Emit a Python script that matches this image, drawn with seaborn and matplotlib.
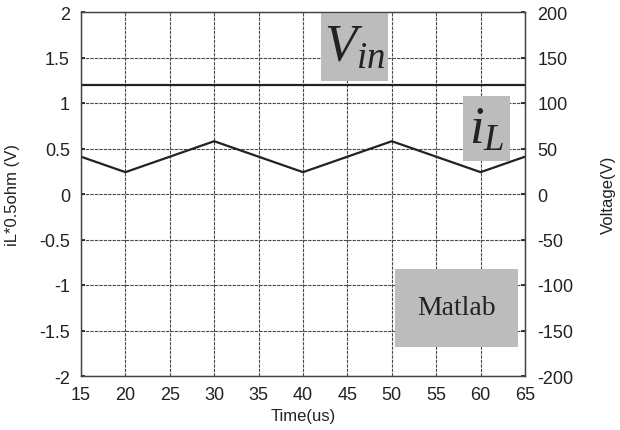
import numpy as np
import pandas as pd
import matplotlib
matplotlib.use("Agg")
import matplotlib.pyplot as plt
import seaborn as sns
from matplotlib.patches import Rectangle
from matplotlib.ticker import FuncFormatter

# Simulated waveforms
time_us = [15, 20, 30, 40, 50, 60, 65]
il_scaled = [0.41, 0.24, 0.58, 0.24, 0.58, 0.24, 0.41]   # iL * 0.5 ohm (V)
vin_time = [15, 65]
vin_volts = [120, 120]                                  # input voltage (V)

x_ticks = [15, 20, 25, 30, 35, 40, 45, 50, 55, 60, 65]
left_ticks = [-2, -1.5, -1, -0.5, 0, 0.5, 1, 1.5, 2]
right_ticks = [-200, -150, -100, -50, 0, 50, 100, 150, 200]

sns.set_theme(style="white")
plt.rcParams["font.family"] = ["Liberation Sans", "DejaVu Sans"]
plt.rcParams["mathtext.fontset"] = "custom"
plt.rcParams["mathtext.it"] = "Liberation Serif:italic"
plt.rcParams["mathtext.rm"] = "Liberation Serif"

fig = plt.figure(figsize=(6.2, 4.31), dpi=100)
ax = fig.add_axes([81 / 620, 1 - 377 / 431, 444 / 620, 364 / 431])
ax2 = ax.twinx()

il_df = pd.DataFrame({"t": time_us, "v": il_scaled})
vin_df = pd.DataFrame({"t": vin_time, "v": vin_volts})
sns.lineplot(data=il_df, x="t", y="v", ax=ax, color="#222222", linewidth=1.6)
sns.lineplot(data=vin_df, x="t", y="v", ax=ax2, color="#222222", linewidth=1.6)

ax.set_xlim(15, 65)
ax.set_ylim(-2, 2)
ax2.set_ylim(-200, 200)
ax.set_xticks(x_ticks)
ax.set_yticks(left_ticks)
ax2.set_yticks(right_ticks)
ax.yaxis.set_major_formatter(FuncFormatter(lambda v, p: f"{v:g}"))
ax2.yaxis.set_major_formatter(FuncFormatter(lambda v, p: f"{v:g}"))

ax.grid(True, color="#4a4a4a", linewidth=0.8, linestyle=(0, (3, 1)))
ax.set_axisbelow(True)
for a in (ax, ax2):
    for s in a.spines.values():
        s.set_color("#444444")
        s.set_linewidth(0.9)
    a.tick_params(labelsize=13, colors="#222222", length=3, direction="in")
ax.tick_params(axis="x", pad=7)
ax.tick_params(axis="y", pad=8)
ax2.tick_params(axis="y", pad=9)

ax.set_xlabel("Time(us)", fontsize=12, color="#222222", labelpad=4)
ax.set_ylabel("iL*0.5ohm (V)", fontsize=12, color="#222222", labelpad=14)
ax2.set_ylabel("Voltage(V)", fontsize=12, color="#222222", labelpad=20)
ax2.set_xlabel("")

# Gray annotation boxes
box_kw = dict(transform=ax.transAxes, facecolor="#bcbcbc", edgecolor="none", zorder=5, clip_on=False)
ax.add_patch(Rectangle((0.541, 0.81), 0.15, 0.19, **box_kw))
ax.text(0.616, 0.905, r"$V_{in}$", transform=ax.transAxes, ha="center", va="center",
        fontsize=38, color="#222222", zorder=6)
ax.add_patch(Rectangle((0.860, 0.591), 0.106, 0.178, **box_kw))
ax.text(0.913, 0.68, r"$i_L$", transform=ax.transAxes, ha="center", va="center",
        fontsize=38, color="#222222", zorder=6)
ax.add_patch(Rectangle((0.707, 0.080), 0.277, 0.214, **box_kw))
ax.text(0.845, 0.187, "Matlab", transform=ax.transAxes, ha="center", va="center",
        fontsize=20, family="Liberation Serif", color="#222222", zorder=6)

fig.savefig("out.png", dpi=100)
